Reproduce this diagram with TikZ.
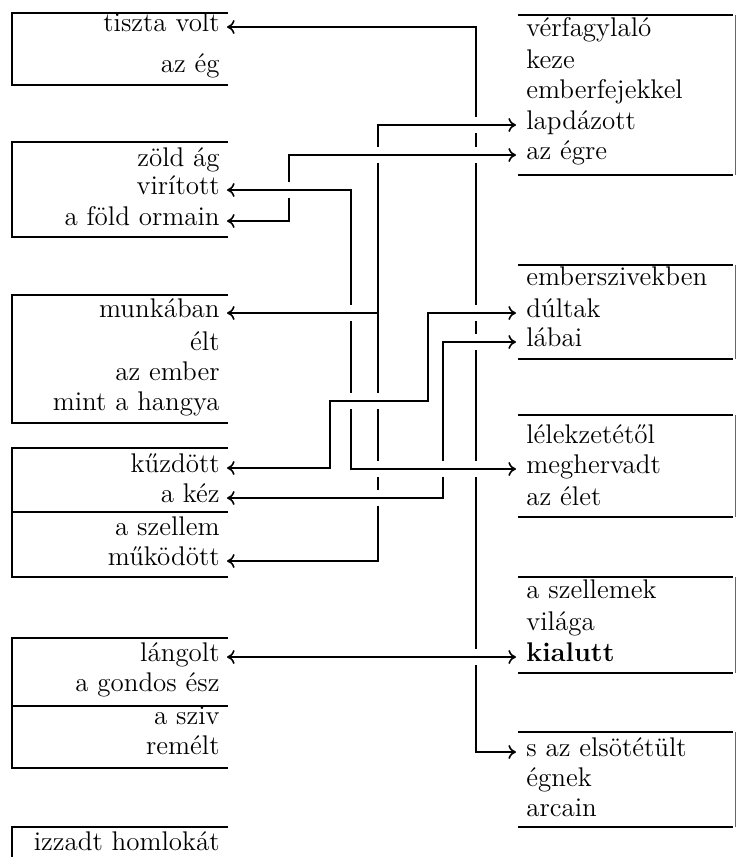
\documentclass[tikz,border=0pt]{standalone}
\usepackage{tikz}
\usetikzlibrary{arrows.meta, calc, positioning}

% zárójelek (dobozok) és kereszteződések
\newcommand{\leftbrk}[2]{\draw[bracket] (228,#1) -| (12,#2) -- (228,#2);}
\newcommand{\rightbrk}[2]{\draw[bracket] (733,#1) -- (518,#1) (518,#2) -- (733,#2);
    \draw[edge] (735,#1) -- (735,#2);}
\newcommand{\hop}[1]{\path #1 coordinate (hp);
    \fill[white] ($(hp)+(-4,-8)$) rectangle ($(hp)+(4,8)$);
    \draw[wire] ($(hp)+(-6,0)$) -- ($(hp)+(6,0)$);}

\begin{document}
\begin{tikzpicture}[
                x=0.5pt, y=-0.5pt,
                word/.style={inner ysep=1pt, font=\fontsize{13.5}{16}\selectfont},
                lword/.style={word, anchor=mid east, inner xsep=3.5pt},
                rword/.style={word, anchor=mid west, inner xsep=5pt},
                bracket/.style={line width=0.9pt},
                edge/.style={line width=0.3pt, black!60},
                wire/.style={line width=0.8pt},
                tip/.tip={Computer Modern Rightarrow[length=3.8pt, width=7pt]},
                link/.style={wire, tip-tip},
                linkto/.style={wire, -tip}
            ]%
            \useasboundingbox (0,0) rectangle (736,857);
            %
            % Bal oldali dobozok
            \leftbrk{13}{85}
            \leftbrk{142}{237}
            \leftbrk{295}{423}
            \leftbrk{448}{577}
            \draw[bracket] (12,512) -- (228,512);
            \leftbrk{638}{768}
            \draw[bracket] (12,706) -- (228,706);
            \draw[bracket] (228,827) -| (12,880);
            %
            % Jobb oldali dobozok
            \rightbrk{15}{175}
            \rightbrk{265}{359}
            \rightbrk{415}{517}
            \rightbrk{577}{673}
            \rightbrk{732}{827}
            %
            % Bal oldali szavak
            \node[lword] (tiszta) at (227,27) {tiszta volt};
            \node[lword] (azeg) at (227,68) {az ég};
            \node[lword] (zold) at (227,162) {zöld ág};
            \node[lword] (viritott) at (227,190) {virított};
            \node[lword] (ormain) at (227,221) {a föld ormain};
            \node[lword] (munkaban) at (227,313) {munkában};
            \node[lword] (elt) at (227,346) {élt};
            \node[lword] (ember) at (227,376) {az ember};
            \node[lword] (hangya) at (227,406) {mint a hangya};
            \node[lword] (kuzdott) at (227,468) {kűzdött};
            \node[lword] (kez) at (227,498) {a kéz};
            \node[lword] (szellem) at (227,531) {a szellem};
            \node[lword] (mukodott) at (227,561) {működött};
            \node[lword] (langolt) at (227,657) {lángolt};
            \node[lword] (gondos) at (227,687) {a gondos ész};
            \node[lword] (sziv) at (227,720) {a sziv};
            \node[lword] (remelt) at (227,750) {remélt};
            \node[lword] (izzadt) at (227,846) {izzadt homlokát};
            %
            % Jobb oldali szavak
            \node[rword] (verfagy) at (516,32) {vérfagylaló};
            \node[rword] (keze) at (516,64) {keze};
            \node[rword] (emberfej) at (516,94) {emberfejekkel};
            \node[rword] (lapdazott) at (516,125) {lapdázott};
            \node[rword] (azegre) at (516,155) {az égre};
            \node[rword] (embersziv) at (516,281) {emberszivekben};
            \node[rword] (dultak) at (516,313) {dúltak};
            \node[rword] (labai) at (516,342) {lábai};
            \node[rword] (lelek) at (516,439) {lélekzetétől};
            \node[rword] (meghervadt) at (516,469) {meghervadt};
            \node[rword] (azelet) at (516,501) {az élet};
            \node[rword] (szellemek) at (516,594) {a szellemek};
            \node[rword] (vilaga) at (516,626) {világa};
            \node[rword] (kialutt) at (516,657) {\textbf{kialutt}};
            \node[rword] (elsotetult) at (516,752) {s az elsötétült};
            \node[rword] (egnek) at (516,782) {égnek};
            \node[rword] (arcain) at (516,812) {arcain};
            %
            % Függőleges vezetékek helye
            \coordinate (cA) at (289,0);
            \coordinate (cC) at (351,0);
            \coordinate (cD) at (378,0);
            \coordinate (cF) at (443,0);
            \coordinate (cG) at (476,0);
            \coordinate (kdA) at (330,401);
            \coordinate (kdB) at (428,401);
            %
            % Kapcsolatok
            \draw[link] (tiszta.mid east) -| (cG |- elsotetult.mid west) -- (elsotetult.mid west);
            \draw[link] (ormain.mid east) -| (cA |- azegre.mid west) -- (azegre.mid west);
            \draw[link] (viritott.mid east) -| (cC |- meghervadt.mid west) -- (meghervadt.mid west);
            \draw[link] (mukodott.mid east) -| (cD |- lapdazott.mid west) -- (lapdazott.mid west);
            \draw[linkto] (cD |- munkaban.mid east) -- (munkaban.mid east);
            \draw[link] (kuzdott.mid east) -| (kdA) -- (kdB) |- (dultak.mid west);
            \draw[link] (kez.mid east) -| (cF |- labai.mid west) -- (labai.mid west);
            \draw[link] (langolt.mid east) -- (kialutt.mid west);
            %
            % Kereszteződések
            \hop{(cA |- viritott.mid east)}
            \hop{(cC |- munkaban.mid east)}
            \hop{(cC |- kdA)}
            \hop{(cD |- azegre.mid west)}
            \hop{(cD |- kdA)}
            \hop{(cD |- meghervadt.mid west)}
            \hop{(cD |- kez.mid east)}
            \hop{(cF |- meghervadt.mid west)}
            \hop{(cG |- lapdazott.mid west)}
            \hop{(cG |- azegre.mid west)}
            \hop{(cG |- dultak.mid west)}
            \hop{(cG |- labai.mid west)}
            \hop{(cG |- meghervadt.mid west)}
            \hop{(cG |- kialutt.mid west)}
        \end{tikzpicture}
\end{document}
